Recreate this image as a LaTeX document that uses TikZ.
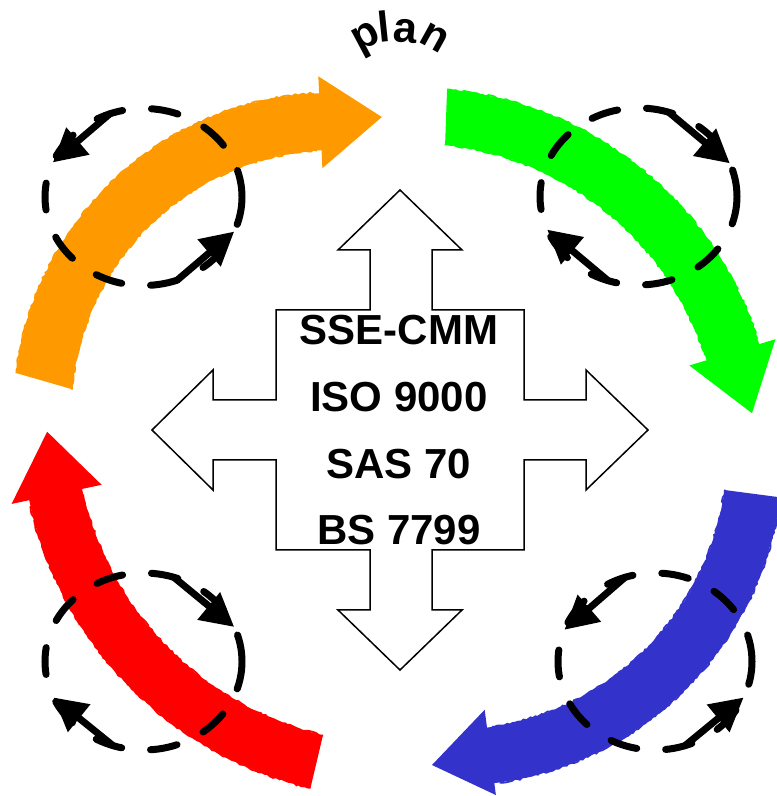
\documentclass[tikz,border=0pt]{standalone}
\usepackage{fontspec}
\setmainfont{Liberation Sans}
\usetikzlibrary{arrows.meta, decorations.pathmorphing}
\definecolor{cOrange}{RGB}{255,153,0}
\definecolor{cGreen}{RGB}{0,255,0}
\definecolor{cRed}{RGB}{255,0,0}
\definecolor{cBlue}{RGB}{51,51,204}
\begin{document}
\begin{tikzpicture}[x=1pt,y=1pt,
  ring/.style={line width=7pt, dash pattern=on 27pt off 29pt, line cap=round},
  cyc/.style={line width=7pt, line cap=round, -{Triangle[length=33pt,width=34pt]}},
  rough/.style={line width=1.8pt, decorate, decoration={random steps, segment length=3pt, amplitude=1pt}},
  crossbox/.style={draw=black, fill=white, line width=1.5pt, line join=miter},
  lbl/.style={font=\bfseries\fontsize{42}{50}\selectfont, inner sep=0pt, anchor=base},
  ttl/.style={font=\bfseries\fontsize{43}{45}\selectfont, inner sep=0pt, anchor=base}
]
\useasboundingbox (0,0) rectangle (777,796);
\clip (0,0) rectangle (777,796);
\pgfmathsetseed{7}

% ---------- coloured cycle arrows ----------
\coordinate (co) at (333,384);
\coordinate (cg) at (413,346);
\coordinate (cr) at (397,374);
\coordinate (cb) at (451,342);

\begin{scope}[shift={(co)}]
  \fill[cOrange] (173:319) arc[start angle=173,end angle=92.5,radius=319]
    -- (92.5:336) -- (80.6:299) -- (92.5:244) -- (92.5:262)
    arc[start angle=92.5,end angle=175,radius=262] -- cycle;
  \draw[cOrange, rough] (173:319) arc[start angle=173,end angle=93.5,radius=319];
  \draw[cOrange, rough] (93.5:262) arc[start angle=93.5,end angle=175,radius=262];
\end{scope}

\begin{scope}[shift={(cg)}]
  \fill[cGreen] (84.6:362) arc[start angle=84.6,end angle=17,radius=362]
    -- (17:379) -- (6.2:341) -- (17:289) -- (17:307)
    arc[start angle=17,end angle=84,radius=307] -- cycle;
  \draw[cGreen, rough] (84.6:362) arc[start angle=84.6,end angle=18,radius=362];
  \draw[cGreen, rough] (18:307) arc[start angle=18,end angle=84,radius=307];
\end{scope}

\begin{scope}[shift={(cr)}]
  \fill[cRed] (256.7:376) arc[start angle=256.7,end angle=192,radius=376]
    -- (192:394) -- (181.6:350) -- (192:302) -- (192:322)
    arc[start angle=192,end angle=256.7,radius=322] -- cycle;
  \draw[cRed, rough] (256.7:376) arc[start angle=256.7,end angle=193,radius=376];
  \draw[cRed, rough] (193:322) arc[start angle=193,end angle=256.7,radius=322];
\end{scope}

\begin{scope}[shift={(cb)}]
  \fill[cBlue] (-7.5:332) arc[start angle=-7.5,end angle=-82.5,radius=332]
    -- (-82.5:344) -- (-93.5:311.6) -- (-82.5:258) -- (-82.5:276)
    arc[start angle=-82.5,end angle=-7.5,radius=276] -- cycle;
  \draw[cBlue, rough] (-7.5:332) arc[start angle=-7.5,end angle=-81.5,radius=332];
  \draw[cBlue, rough] (-81.5:276) arc[start angle=-81.5,end angle=-7.5,radius=276];
\end{scope}

% ---------- central four-way arrow ----------
\draw[crossbox] (400,606) -- (462,546) -- (432,546) -- (432,486) -- (524,486)
  -- (524,396) -- (586,396) -- (586,426) -- (648,366) -- (586,306) -- (586,336)
  -- (524,336) -- (524,246) -- (432,246) -- (432,186) -- (462,186) -- (400,126)
  -- (338,186) -- (370,186) -- (370,246) -- (276,246) -- (276,336) -- (213,336)
  -- (213,306) -- (152,366) -- (213,426) -- (213,396) -- (276,396) -- (276,486)
  -- (370,486) -- (370,546) -- (338,546) -- cycle;

\node[lbl] (t1) at (399,451) {SSE-CMM};
\node[lbl] (t2) at (399,384) {ISO 9000};
\node[lbl] (t3) at (399,317) {SAS 70};
\node[lbl] (t4) at (399,251) {BS 7799};

% ---------- curved title "plan" ----------
\node[ttl, rotate=28] (lp) at (371,750) {p};
\node[ttl, rotate=6] (ll) at (385,754) {l};
\node[ttl, rotate=-5] (la) at (404,753) {a};
\node[ttl, rotate=-29] (ln) at (429,748) {n};

% ---------- dashed cycles ----------
\coordinate (eo) at (143.5,599);
\coordinate (eg) at (638.5,599.5);
\coordinate (er) at (143.5,134.5);
\coordinate (eb) at (655,134.5);

\begin{scope}[shift={(eo)}]
  \draw[ring] (0,0) ellipse[x radius=98.5, y radius=88.5];
  \draw[cyc] (110:98.5 and 88.5) -- (157:98.5 and 88.5);
  \draw[cyc] (290:98.5 and 88.5) -- (337:98.5 and 88.5);
\end{scope}

\begin{scope}[shift={(eg)}]
  \draw[ring] (0,0) ellipse[x radius=98.5, y radius=88.5];
  \draw[cyc] (72:98.5 and 88.5) -- (22:98.5 and 88.5);
  \draw[cyc] (252:98.5 and 88.5) -- (202:98.5 and 88.5);
\end{scope}

\begin{scope}[shift={(er)}]
  \draw[ring] (0,0) ellipse[x radius=98.5, y radius=88.5];
  \draw[cyc] (72:98.5 and 88.5) -- (23:98.5 and 88.5);
  \draw[cyc] (252:98.5 and 88.5) -- (204:98.5 and 88.5);
\end{scope}

\begin{scope}[shift={(eb)}]
  \draw[ring] (0,0) ellipse[x radius=97, y radius=88.5];
  \draw[cyc] (108:97 and 88.5) -- (159:97 and 88.5);
  \draw[cyc] (288:97 and 88.5) -- (336:97 and 88.5);
\end{scope}
\end{tikzpicture}
\end{document}
